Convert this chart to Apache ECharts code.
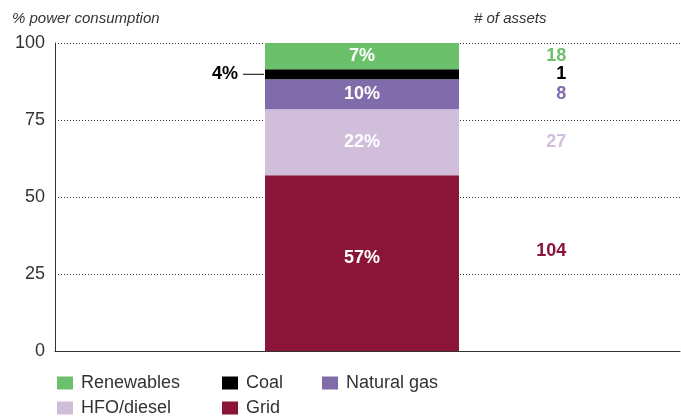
<!DOCTYPE html>
<html>
<head>
<meta charset="utf-8">
<script src="https://cdn.jsdelivr.net/npm/echarts@6/dist/echarts.min.js"></script>
<style>
  html, body { margin: 0; padding: 0; background: #fff; }
  #chart { width: 681px; height: 419px; }
</style>
</head>
<body>
<div id="chart"></div>
<script>
// stacked from the bottom up
const seriesNames = ['Grid', 'HFO/diesel', 'Natural gas', 'Coal', 'Renewables']
const shareValues = [57.1, 21.4, 9.7, 3.3, 8.5]
const shareLabels = ['57%', '22%', '10%', '4%', '7%']
const assetCounts = [104, 27, 8, 1, 18]
const yTicks = [0, 25, 50, 75, 100]

const colors = {
  'Grid': '#8a1538',
  'HFO/diesel': '#d0bedb',
  'Natural gas': '#806bab',
  'Coal': '#000000',
  'Renewables': '#6bc06b'
}

const FONT = '"Liberation Sans", Arial, sans-serif'
const ASSET_X = 81.8

const chart = echarts.init(document.getElementById('chart'))

// cumulative midpoints for the asset count labels
let acc = 0
const mids = shareValues.map(v => {
  const m = acc + v / 2
  acc += v
  return m
})

const barSeries = seriesNames.map((name, i) => {
  const isCoal = name === 'Coal'
  return {
    name,
    type: 'bar',
    stack: 'share',
    xAxisIndex: 1,
    yAxisIndex: 1,
    barWidth: 194,
    data: [shareValues[i]],
    itemStyle: { color: colors[name] },
    label: isCoal ? {
      show: true,
      position: 'left',
      distance: 1,
      formatter: '{t|' + shareLabels[i] + '}{g|}',
      rich: {
        t: { fontFamily: FONT, fontSize: 18, fontWeight: 'bold', color: '#000', padding: [0, 5, 0, 0] },
        g: { width: 21, height: 1, backgroundColor: '#000' }
      }
    } : {
      show: true,
      position: 'inside',
      offset: name === 'Grid' ? [0, -5] : [0, 0],
      formatter: shareLabels[i],
      fontFamily: FONT,
      fontSize: 18,
      fontWeight: 'bold',
      color: '#fff'
    }
  }
})

const assetSeries = {
  name: 'assets',
  type: 'scatter',
  symbolSize: 0,
  silent: true,
  itemStyle: { opacity: 1 },
  data: seriesNames.map((name, i) => ({
    value: [ASSET_X, mids[i]],
    label: {
      color: colors[name],
      offset: name === 'Grid' ? [0, -12] : [0, 0]
    }
  })),
  label: {
    show: true,
    position: 'left',
    distance: 0,
    fontFamily: FONT,
    fontSize: 18,
    fontWeight: 'bold',
    formatter: p => assetCounts[p.dataIndex]
  }
}

const legendBase = {
  orient: 'vertical',
  top: 374,
  height: 50,
  padding: 0,
  itemWidth: 16,
  itemHeight: 13,
  itemGap: 7,
  icon: 'rect',
  textStyle: { fontFamily: FONT, fontSize: 18, lineHeight: 18, color: '#333', padding: [0, 0, 0, 3] }
}

const titleStyle = { fontFamily: FONT, fontSize: 15, fontStyle: 'italic', fontWeight: 'normal', color: '#333' }

const option = {
  animation: false,
  title: [
    { text: '% power consumption', left: 7, top: 6, textStyle: titleStyle },
    { text: '# of assets', left: 469, top: 6, textStyle: titleStyle }
  ],
  legend: [
    Object.assign({}, legendBase, { left: 57, data: ['Renewables', 'HFO/diesel'] }),
    Object.assign({}, legendBase, { left: 222, data: ['Coal', 'Grid'] }),
    Object.assign({}, legendBase, { left: 322, data: ['Natural gas'] })
  ],
  grid: [
    { left: 55, right: 1, top: 43, bottom: 68 },
    { left: 55, right: 12, top: 43, bottom: 68 }
  ],
  xAxis: [
    {
      type: 'value',
      gridIndex: 0,
      min: 0,
      max: 100,
      axisLine: { show: true, lineStyle: { color: '#333', width: 1 } },
      axisTick: { show: false },
      axisLabel: { show: false },
      splitLine: { show: false }
    },
    {
      type: 'category',
      gridIndex: 1,
      data: ['share'],
      show: false
    }
  ],
  yAxis: [
    {
      type: 'value',
      gridIndex: 0,
      min: yTicks[0],
      max: yTicks[yTicks.length - 1],
      interval: yTicks[1] - yTicks[0],
      axisLine: { show: true, lineStyle: { color: '#333', width: 1 } },
      axisTick: { show: false },
      axisLabel: { fontFamily: FONT, fontSize: 18, color: '#333', margin: 10 },
      splitLine: { show: true, lineStyle: { color: '#333', type: [1, 2], width: 1 } }
    },
    {
      type: 'value',
      gridIndex: 1,
      min: yTicks[0],
      max: yTicks[yTicks.length - 1],
      show: false,
      splitLine: { show: false }
    }
  ],
  series: [...barSeries, assetSeries]
}

chart.setOption(option)
</script>
</body>
</html>
